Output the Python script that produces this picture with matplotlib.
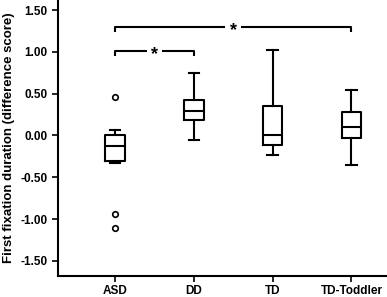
import matplotlib
matplotlib.use("Agg")
import matplotlib.pyplot as plt

groups = ["ASD", "DD", "TD", "TD-Toddler"]
whis_lo = [-0.33, -0.05, -0.23, -0.35]
q1 = [-0.30, 0.19, -0.115, -0.035]
medians = [-0.13, 0.29, 0.0, 0.10]
q3 = [0.0, 0.43, 0.35, 0.28]
whis_hi = [0.07, 0.75, 1.02, 0.54]
fliers = [[0.46, -0.94, -1.11], [], [], []]

yticks = [1.5, 1.0, 0.5, 0.0, -0.5, -1.0, -1.5]
ytick_labels = ["1.50", "1.00", "0.50", "0.00", "-0.50", "-1.00", "-1.50"]

# significance brackets: (from group idx, to group idx, y level)
sig_pairs = [(0, 3, 1.30), (0, 1, 1.01)]
sig_text = "*"

plt.rcParams['font.family'] = ['Liberation Sans', 'DejaVu Sans']
plt.rcParams['font.weight'] = 'bold'

fig = plt.figure(figsize=(3.87, 2.97), dpi=100)
ax = fig.add_axes([58/387, 21/297, (387-58)/387, 276/297])

stats = []
for i, g in enumerate(groups):
    stats.append(dict(label=g, med=medians[i], q1=q1[i], q3=q3[i],
                      whislo=whis_lo[i], whishi=whis_hi[i], fliers=fliers[i]))
pos = list(range(1, len(groups) + 1))
lw = 1.5
ax.bxp(stats, positions=pos, widths=0.25, showfliers=True,
       boxprops=dict(color='black', linewidth=lw),
       medianprops=dict(color='black', linewidth=lw),
       whiskerprops=dict(color='black', linewidth=lw),
       capprops=dict(color='black', linewidth=lw),
       capwidths=0.13,
       flierprops=dict(marker='o', markersize=4, markerfacecolor='white',
                       markeredgecolor='black', markeredgewidth=1.2))

for a, b, y in sig_pairs:
    xa, xb = pos[a], pos[b]
    ax.plot([xa, xa, xb, xb], [y - 0.06, y, y, y - 0.06], color='black',
            linewidth=lw, solid_capstyle='butt', clip_on=False)
    ax.text((xa + xb) / 2, y - 0.04, sig_text, ha='center', va='center',
            fontsize=13, fontweight='bold',
            bbox=dict(facecolor='white', edgecolor='none', pad=3))

ax.set_xlim(0.28, 4.45)
ax.set_ylim(-1.68, 1.62)
ax.set_yticks(yticks)
ax.set_yticklabels(ytick_labels)
ax.set_xticks(pos)
ax.set_xticklabels(groups)
ax.tick_params(axis='both', labelsize=8.5, width=1.2, length=4, direction='out')
for lab in ax.get_xticklabels() + ax.get_yticklabels():
    lab.set_fontweight('bold')
ax.tick_params(axis='x', pad=2.5)
ax.spines['top'].set_visible(False)
ax.spines['right'].set_visible(False)
ax.spines['left'].set_linewidth(1.5)
ax.spines['bottom'].set_linewidth(1.5)
ax.set_ylabel("First fixation duration (difference score)", fontsize=9.5,
              fontweight='bold', labelpad=4)

fig.savefig("out.png", dpi=100)
